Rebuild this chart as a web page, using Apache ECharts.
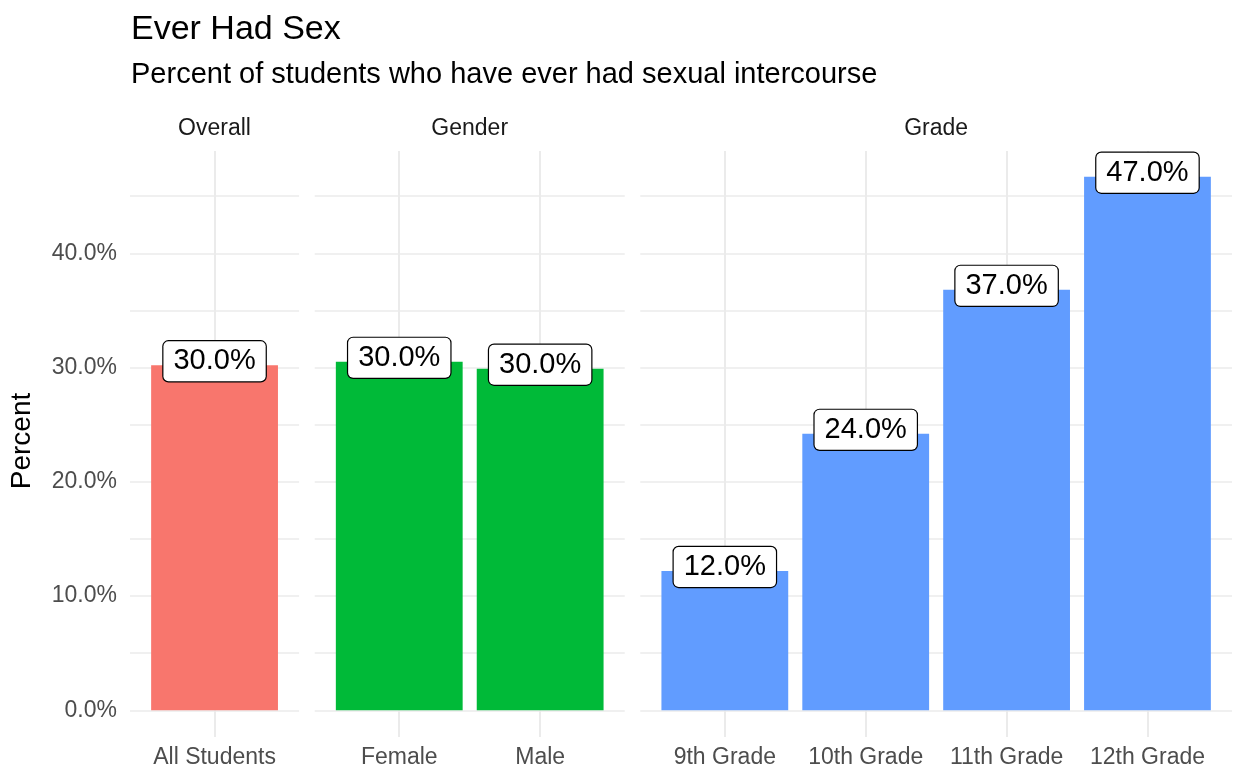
<!DOCTYPE html>
<html>
<head>
<meta charset="utf-8">
<script src="https://cdn.jsdelivr.net/npm/echarts@6/dist/echarts.min.js"></script>
<style>
  html, body { margin: 0; padding: 0; background: #fff; }
  #chart { width: 1236px; height: 774px; }
</style>
</head>
<body>
<div id="chart"></div>
<script>
// data
const overallCats = ['All Students']
const genderCats  = ['Female', 'Male']
const gradeCats   = ['9th Grade', '10th Grade', '11th Grade', '12th Grade']

const overallVals = [30.2]
const genderVals  = [30.5, 29.9]
const gradeVals   = [12.2, 24.2, 36.8, 46.7]

// label text as printed on the boxes (rounded in the source)
const overallLabels = ['30.0%']
const genderLabels  = ['30.0%', '30.0%']
const gradeLabels   = ['12.0%', '24.0%', '37.0%', '47.0%']

const yTickVals = [0, 10, 20, 30, 40]
const yGridVals = [0, 5, 10, 15, 20, 25, 30, 35, 40, 45]

const FONT = '"Liberation Sans", Arial, sans-serif'
const GRID_COLOR = '#ebebeb'
const Y_MIN = -2.33
const Y_MAX = 48.95

// facet panels (pixel layout like ggplot's free-space facets)
const panels = [
  { strip: 'Overall', cats: overallCats, vals: overallVals, labels: overallLabels, color: '#F8766D', left: 130,   width: 169.1 },
  { strip: 'Gender',  cats: genderCats,  vals: genderVals,  labels: genderLabels,  color: '#00BA38', left: 314.7, width: 310 },
  { strip: 'Grade',   cats: gradeCats,   vals: gradeVals,   labels: gradeLabels,   color: '#619CFF', left: 640.3, width: 591.7 },
]
const GRID_TOP = 151
const GRID_BOTTOM = 37

const grids = panels.map(p => ({ left: p.left, width: p.width, top: GRID_TOP, bottom: GRID_BOTTOM }))

const xAxes = panels.map((p, i) => ({
  type: 'value',
  gridIndex: i,
  min: 0.4,
  max: p.cats.length + 0.6,
  axisLine: { show: false },
  axisTick: { show: false, customValues: p.cats.map((_, k) => k + 1) },
  axisLabel: {
    customValues: p.cats.map((_, k) => k + 1),
    formatter: v => p.cats[Math.round(v) - 1] || '',
    color: '#4d4d4d',
    fontSize: 23,
    fontFamily: FONT,
    margin: 9,
  },
  splitLine: { show: true, lineStyle: { color: GRID_COLOR, width: 2 } },
}))

const yAxes = panels.map((p, i) => ({
  type: 'value',
  gridIndex: i,
  min: Y_MIN,
  max: Y_MAX,
  axisLine: { show: false },
  axisTick: { show: false, customValues: yGridVals },
  axisLabel: {
    show: i === 0,
    customValues: yTickVals,
    formatter: v => v.toFixed(1) + '%',
    color: '#4d4d4d',
    fontSize: 23,
    fontFamily: FONT,
    margin: 13,
  },
  splitLine: { show: true, lineStyle: { color: GRID_COLOR, width: 1.7 } },
}))

const series = panels.map((p, i) => ({
  type: 'bar',
  xAxisIndex: i,
  yAxisIndex: i,
  data: p.vals.map((v, k) => [k + 1, v]),
  barWidth: 0.9 * p.width / (p.cats.length + 0.2),
  itemStyle: { color: p.color },
  label: {
    show: true,
    position: 'top',
    distance: -16,
    formatter: params => p.labels[params.dataIndex],
    fontSize: 29,
    fontFamily: FONT,
    color: '#000',
    lineHeight: 30,
    backgroundColor: '#fff',
    borderColor: '#000',
    borderWidth: 1.2,
    borderRadius: 5,
    padding: [5, 10],
  },
  silent: true,
  animation: false,
}))

const titles = [
  { text: 'Ever Had Sex', left: 131, top: 13, padding: 0,
    textStyle: { fontSize: 34, fontWeight: 'normal', color: '#000', fontFamily: FONT } },
  { text: 'Percent of students who have ever had sexual intercourse', left: 131, top: 60, padding: 0,
    textStyle: { fontSize: 29, fontWeight: 'normal', color: '#000', fontFamily: FONT } },
  ...panels.map(p => ({
    text: p.strip, left: p.left + p.width / 2, top: 117, padding: 0, textAlign: 'center',
    textStyle: { fontSize: 23, fontWeight: 'normal', color: '#1a1a1a', fontFamily: FONT },
  })),
]

const chart = echarts.init(document.getElementById('chart'))
chart.setOption({
  animation: false,
  backgroundColor: '#fff',
  title: titles,
  grid: grids,
  xAxis: xAxes,
  yAxis: yAxes,
  series: series,
  graphic: [{
    type: 'text',
    x: 22,
    y: 441,
    rotation: Math.PI / 2,
    style: {
      text: 'Percent',
      fontSize: 28,
      fontFamily: FONT,
      fill: '#000',
      align: 'center',
      verticalAlign: 'middle',
    },
  }],
})
</script>
</body>
</html>
